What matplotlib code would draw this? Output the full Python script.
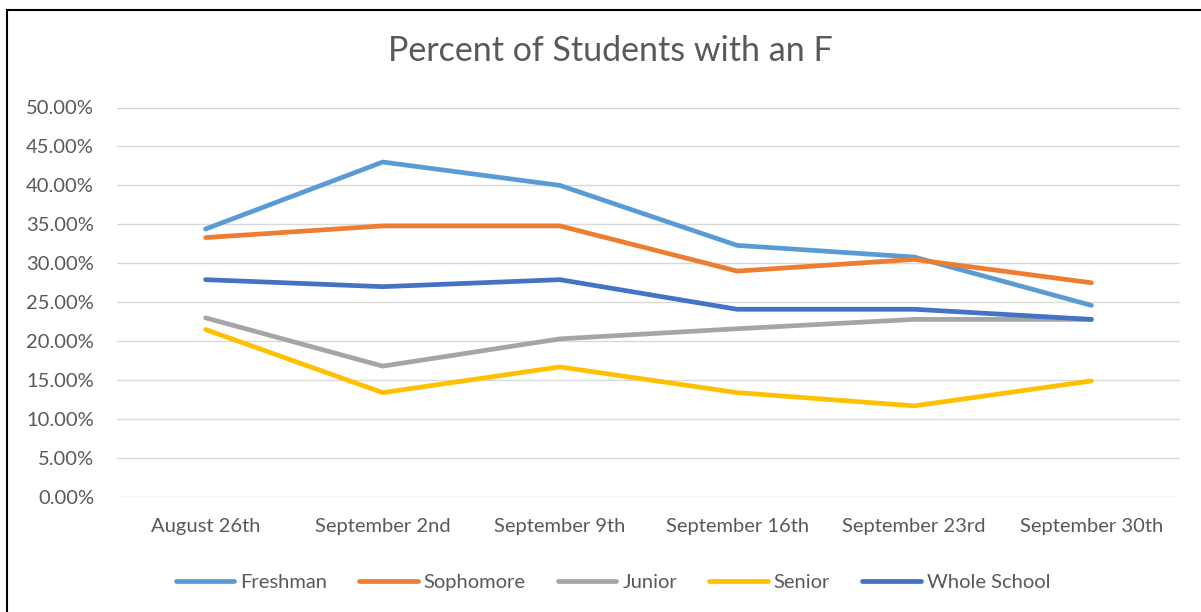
import matplotlib
matplotlib.use("Agg")
import matplotlib.pyplot as plt
from matplotlib.patches import Rectangle
from matplotlib.ticker import PercentFormatter, MultipleLocator

# ── Data ──────────────────────────────────────────────────────────────────────
dates = ["August 26th", "September 2nd", "September 9th",
         "September 16th", "September 23rd", "September 30th"]

freshman = [0.344, 0.430, 0.400, 0.323, 0.308, 0.246]
sophomore = [0.333, 0.348, 0.348, 0.290, 0.305, 0.275]
junior = [0.230, 0.168, 0.203, 0.216, 0.228, 0.228]
senior = [0.215, 0.134, 0.167, 0.134, 0.117, 0.149]
whole_school = [0.279, 0.270, 0.279, 0.241, 0.241, 0.228]

series = [
    ("Freshman", freshman, "#5B9BD5"),
    ("Sophomore", sophomore, "#ED7D31"),
    ("Junior", junior, "#A5A5A5"),
    ("Senior", senior, "#FFC000"),
    ("Whole School", whole_school, "#4472C4"),
]

TEXT = "#595959"
plt.rcParams["font.family"] = ["Lato", "DejaVu Sans"]

W, H = 1201, 612
fig = plt.figure(figsize=(W / 100, H / 100), dpi=100)

# outer chart frame (runs off the right/bottom edge in the reference)
fig.patches.append(Rectangle((7 / W, -0.05), 1.1, 1 - 10 / H + 0.05,
                             transform=fig.transFigure, fill=False,
                             edgecolor="black", linewidth=1.5))

ax = fig.add_axes([117 / W, 1 - 497 / H, (1180 - 117) / W, (497 - 107.5) / H])

x = list(range(len(dates)))
for name, vals, color in series:
    ax.plot(x, vals, color=color, linewidth=3.4, label=name,
            solid_capstyle="round", solid_joinstyle="round", zorder=3)

ax.set_xlim(-0.5, len(dates) - 0.5)
ax.set_ylim(0, 0.5)
ax.yaxis.set_major_locator(MultipleLocator(0.05))
ax.yaxis.set_major_formatter(PercentFormatter(1.0, decimals=2))
ax.set_xticks(x)
ax.set_xticklabels(dates)
ax.grid(axis="y", color="#D9D9D9", linewidth=1.0, zorder=0)
for s in ax.spines.values():
    s.set_visible(False)
ax.tick_params(axis="both", length=0, labelsize=14.5, labelcolor=TEXT)
ax.tick_params(axis="y", pad=16.5)
ax.tick_params(axis="x", pad=15)

fig.text(610 / W, 1 - 51 / H, "Percent of Students with an F",
         ha="center", va="center", fontsize=24.5, color=TEXT)

fig.legend(loc="center", bbox_to_anchor=(613 / W, 1 - 582 / H), ncol=5,
           frameon=False, fontsize=14.5, labelcolor=TEXT, handlelength=2.9,
           handletextpad=0.3, columnspacing=1.6)

fig.savefig("out.png", dpi=100, facecolor="white")
